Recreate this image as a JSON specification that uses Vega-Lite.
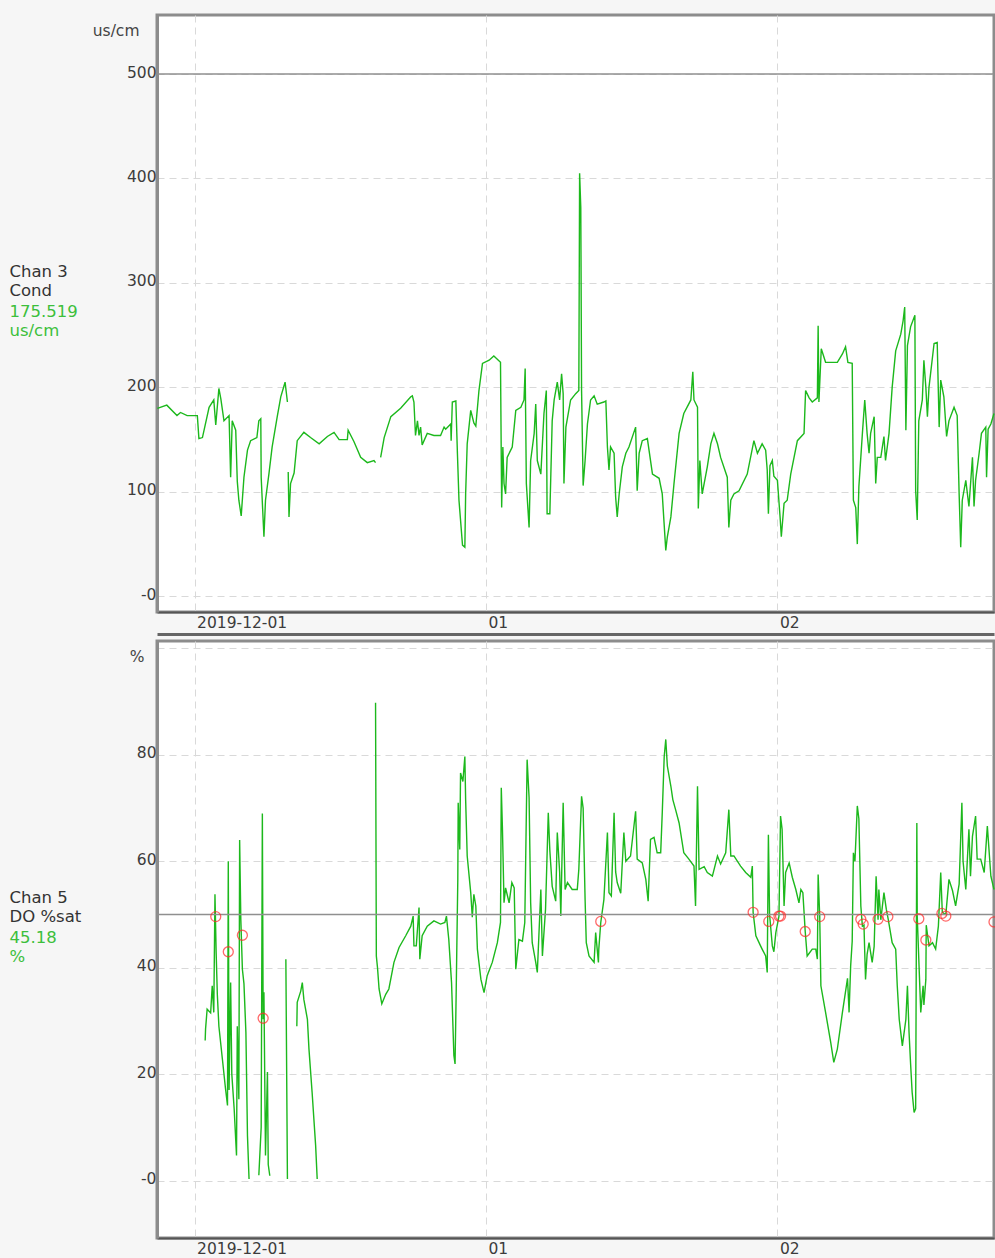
{
"$schema":"https://vega.github.io/schema/vega-lite/v6.json",
"background":"#f6f6f6",
"padding":{"left":7,"top":13,"right":0,"bottom":0},
"spacing":0,
"config":{
 "font":"DejaVu Sans",
 "view":{"fill":"white","stroke":"#8c8c8c","strokeWidth":3},
 "axis":{"labelFont":"DejaVu Sans","labelFontSize":15.5,"labelColor":"#3c3c3c","domainColor":"#8c8c8c","domainWidth":3,"ticks":false,"gridColor":"#d9d9d9","gridDash":[7,5],"gridWidth":1,"titleFont":"DejaVu Sans","titleFontWeight":"normal","titleFontSize":16.5,"titleColor":"#333333","titleAngle":0,"titleLineHeight":19.5},
 "axisX":{"domainColor":"#555555","domainWidth":2,"labelAlign":"left","labelBaseline":"top","labelOffset":2,"labelPadding":3,"labelFlush":false},
 "axisY":{"labelAlign":"right","labelBaseline":"middle","labelOffset":-2,"labelPadding":1}
},
"datasets":{
"cond":[
{"t":"2019-11-27 01:00","v":180},{"t":"2019-11-28 01:00","v":183},{"t":"2019-11-29 03:00","v":173},{"t":"2019-11-29 12:00","v":176},{"t":"2019-11-30 05:00","v":173},{"t":"2019-12-01 07:00","v":173},{"t":"2019-12-01 11:00","v":151},{"t":"2019-12-01 20:00","v":152},{"t":"2019-12-02 13:00","v":181},{"t":"2019-12-03 01:00","v":188},{"t":"2019-12-03 06:00","v":164},{"t":"2019-12-03 14:00","v":199},{"t":"2019-12-03 19:00","v":189},{"t":"2019-12-04 03:00","v":168},{"t":"2019-12-04 16:00","v":173},{"t":"2019-12-04 20:00","v":114},{"t":"2019-12-05 00:00","v":168},{"t":"2019-12-05 09:00","v":159},{"t":"2019-12-05 13:00","v":110},{"t":"2019-12-05 17:00","v":92},{"t":"2019-12-05 23:00","v":77},{"t":"2019-12-06 06:00","v":114},{"t":"2019-12-06 15:00","v":140},{"t":"2019-12-06 23:00","v":149},{"t":"2019-12-07 15:00","v":152},{"t":"2019-12-07 20:00","v":168},{"t":"2019-12-08 01:00","v":170},{"t":"2019-12-08 02:00","v":114},{"t":"2019-12-08 09:00","v":57},{"t":"2019-12-08 13:00","v":92},{"t":"2019-12-08 22:00","v":118},{"t":"2019-12-09 06:00","v":143},{"t":"2019-12-09 19:00","v":172},{"t":"2019-12-10 04:00","v":191},{"t":"2019-12-10 15:00","v":205},{"t":"2019-12-10 21:00","v":186},{"t":"2019-12-10 22:00","v":null},{"t":"2019-12-10 23:00","v":119},{"t":"2019-12-11 01:00","v":76},{"t":"2019-12-11 05:00","v":108},{"t":"2019-12-11 14:00","v":118},{"t":"2019-12-11 22:00","v":149},{"t":"2019-12-12 15:00","v":157},{"t":"2019-12-13 08:00","v":152},{"t":"2019-12-14 06:00","v":146},{"t":"2019-12-15 03:00","v":153},{"t":"2019-12-15 20:00","v":157},{"t":"2019-12-16 09:00","v":150},{"t":"2019-12-17 06:00","v":150},{"t":"2019-12-17 08:00","v":159},{"t":"2019-12-17 23:00","v":148},{"t":"2019-12-18 16:00","v":133},{"t":"2019-12-19 09:00","v":128},{"t":"2019-12-20 02:00","v":130},{"t":"2019-12-20 06:00","v":128},{"t":"2019-12-20 12:00","v":null},{"t":"2019-12-20 19:00","v":133},{"t":"2019-12-21 04:00","v":152},{"t":"2019-12-21 21:00","v":172},{"t":"2019-12-22 22:00","v":180},{"t":"2019-12-24 00:00","v":191},{"t":"2019-12-24 04:00","v":192},{"t":"2019-12-24 08:00","v":186},{"t":"2019-12-24 12:00","v":154},{"t":"2019-12-24 17:00","v":168},{"t":"2019-12-24 21:00","v":154},{"t":"2019-12-25 01:00","v":162},{"t":"2019-12-25 05:00","v":145},{"t":"2019-12-25 18:00","v":156},{"t":"2019-12-26 11:00","v":154},{"t":"2019-12-27 04:00","v":154},{"t":"2019-12-27 13:00","v":162},{"t":"2019-12-27 17:00","v":160},{"t":"2019-12-28 06:00","v":165},{"t":"2019-12-28 07:00","v":149},{"t":"2019-12-28 10:00","v":186},{"t":"2019-12-28 19:00","v":187},{"t":"2019-12-28 23:00","v":137},{"t":"2019-12-29 03:00","v":92},{"t":"2019-12-29 12:00","v":49},{"t":"2019-12-29 18:00","v":47},{"t":"2019-12-29 20:00","v":98},{"t":"2019-12-30 00:00","v":146},{"t":"2019-12-30 09:00","v":178},{"t":"2019-12-30 17:00","v":166},{"t":"2019-12-30 22:00","v":163},{"t":"2019-12-31 06:00","v":197},{"t":"2019-12-31 15:00","v":223},{"t":"2020-01-01 08:00","v":226},{"t":"2020-01-01 20:00","v":230},{"t":"2020-01-02 13:00","v":224},{"t":"2020-01-02 16:00","v":85},{"t":"2020-01-02 19:00","v":143},{"t":"2020-01-02 22:00","v":108},{"t":"2020-01-03 02:00","v":98},{"t":"2020-01-03 06:00","v":133},{"t":"2020-01-03 19:00","v":143},{"t":"2020-01-04 04:00","v":178},{"t":"2020-01-04 17:00","v":181},{"t":"2020-01-05 01:00","v":188},{"t":"2020-01-05 04:00","v":218},{"t":"2020-01-05 07:00","v":108},{"t":"2020-01-05 14:00","v":66},{"t":"2020-01-05 18:00","v":130},{"t":"2020-01-06 03:00","v":156},{"t":"2020-01-06 07:00","v":184},{"t":"2020-01-06 11:00","v":130},{"t":"2020-01-06 20:00","v":117},{"t":"2020-01-07 04:00","v":175},{"t":"2020-01-07 10:00","v":197},{"t":"2020-01-07 12:00","v":79},{"t":"2020-01-07 19:00","v":79},{"t":"2020-01-08 01:00","v":168},{"t":"2020-01-08 06:00","v":188},{"t":"2020-01-08 14:00","v":205},{"t":"2020-01-08 20:00","v":188},{"t":"2020-01-09 01:00","v":213},{"t":"2020-01-09 05:00","v":194},{"t":"2020-01-09 07:00","v":108},{"t":"2020-01-09 12:00","v":162},{"t":"2020-01-10 00:00","v":188},{"t":"2020-01-10 13:00","v":194},{"t":"2020-01-10 21:00","v":197},{"t":"2020-01-10 23:00","v":405},{"t":"2020-01-11 02:00","v":372},{"t":"2020-01-11 04:00","v":197},{"t":"2020-01-11 08:00","v":106},{"t":"2020-01-11 13:00","v":130},{"t":"2020-01-11 19:00","v":165},{"t":"2020-01-12 03:00","v":188},{"t":"2020-01-12 12:00","v":192},{"t":"2020-01-12 20:00","v":184},{"t":"2020-01-13 13:00","v":186},{"t":"2020-01-13 18:00","v":187},{"t":"2020-01-13 22:00","v":143},{"t":"2020-01-14 02:00","v":121},{"t":"2020-01-14 06:00","v":143},{"t":"2020-01-14 15:00","v":137},{"t":"2020-01-14 19:00","v":95},{"t":"2020-01-14 23:00","v":76},{"t":"2020-01-15 04:00","v":98},{"t":"2020-01-15 12:00","v":124},{"t":"2020-01-15 21:00","v":137},{"t":"2020-01-16 05:00","v":143},{"t":"2020-01-16 22:00","v":162},{"t":"2020-01-17 02:00","v":101},{"t":"2020-01-17 07:00","v":137},{"t":"2020-01-17 15:00","v":149},{"t":"2020-01-18 04:00","v":151},{"t":"2020-01-18 17:00","v":117},{"t":"2020-01-19 10:00","v":113},{"t":"2020-01-19 18:00","v":98},{"t":"2020-01-20 03:00","v":44},{"t":"2020-01-20 07:00","v":57},{"t":"2020-01-20 16:00","v":76},{"t":"2020-01-21 00:00","v":108},{"t":"2020-01-21 13:00","v":156},{"t":"2020-01-22 01:00","v":175},{"t":"2020-01-22 19:00","v":188},{"t":"2020-01-23 00:00","v":215},{"t":"2020-01-23 03:00","v":188},{"t":"2020-01-23 12:00","v":181},{"t":"2020-01-23 14:00","v":84},{"t":"2020-01-23 18:00","v":130},{"t":"2020-01-24 00:00","v":98},{"t":"2020-01-24 13:00","v":124},{"t":"2020-01-24 22:00","v":146},{"t":"2020-01-25 06:00","v":156},{"t":"2020-01-25 15:00","v":146},{"t":"2020-01-25 23:00","v":133},{"t":"2020-01-26 16:00","v":114},{"t":"2020-01-26 20:00","v":66},{"t":"2020-01-27 01:00","v":92},{"t":"2020-01-27 09:00","v":98},{"t":"2020-01-27 22:00","v":101},{"t":"2020-01-28 19:00","v":117},{"t":"2020-01-29 12:00","v":149},{"t":"2020-01-29 21:00","v":137},{"t":"2020-01-30 09:00","v":146},{"t":"2020-01-30 18:00","v":140},{"t":"2020-01-30 22:00","v":121},{"t":"2020-01-31 01:00","v":79},{"t":"2020-01-31 05:00","v":125},{"t":"2020-01-31 11:00","v":130},{"t":"2020-01-31 15:00","v":115},{"t":"2020-02-01 00:00","v":111},{"t":"2020-02-01 07:00","v":75},{"t":"2020-02-01 10:00","v":57},{"t":"2020-02-01 17:00","v":89},{"t":"2020-02-02 01:00","v":92},{"t":"2020-02-02 10:00","v":117},{"t":"2020-02-03 03:00","v":149},{"t":"2020-02-03 20:00","v":156},{"t":"2020-02-04 00:00","v":197},{"t":"2020-02-04 09:00","v":190},{"t":"2020-02-04 17:00","v":186},{"t":"2020-02-05 06:00","v":190},{"t":"2020-02-05 08:00","v":259},{"t":"2020-02-05 10:00","v":186},{"t":"2020-02-05 16:00","v":237},{"t":"2020-02-06 03:00","v":224},{"t":"2020-02-07 09:00","v":224},{"t":"2020-02-07 22:00","v":232},{"t":"2020-02-08 06:00","v":239},{"t":"2020-02-08 12:00","v":224},{"t":"2020-02-08 23:00","v":223},{"t":"2020-02-09 02:00","v":92},{"t":"2020-02-09 08:00","v":85},{"t":"2020-02-09 12:00","v":50},{"t":"2020-02-09 16:00","v":105},{"t":"2020-02-10 01:00","v":156},{"t":"2020-02-10 07:00","v":188},{"t":"2020-02-10 13:00","v":156},{"t":"2020-02-10 18:00","v":137},{"t":"2020-02-10 22:00","v":156},{"t":"2020-02-11 07:00","v":172},{"t":"2020-02-11 11:00","v":108},{"t":"2020-02-11 15:00","v":133},{"t":"2020-02-12 00:00","v":133},{"t":"2020-02-12 08:00","v":153},{"t":"2020-02-12 12:00","v":130},{"t":"2020-02-12 21:00","v":156},{"t":"2020-02-13 05:00","v":200},{"t":"2020-02-13 14:00","v":235},{"t":"2020-02-14 03:00","v":251},{"t":"2020-02-14 09:00","v":264},{"t":"2020-02-14 13:00","v":277},{"t":"2020-02-14 16:00","v":159},{"t":"2020-02-14 20:00","v":240},{"t":"2020-02-15 04:00","v":258},{"t":"2020-02-15 15:00","v":269},{"t":"2020-02-15 17:00","v":101},{"t":"2020-02-15 21:00","v":73},{"t":"2020-02-16 01:00","v":168},{"t":"2020-02-16 10:00","v":188},{"t":"2020-02-16 14:00","v":226},{"t":"2020-02-16 19:00","v":200},{"t":"2020-02-16 23:00","v":172},{"t":"2020-02-17 03:00","v":200},{"t":"2020-02-17 16:00","v":242},{"t":"2020-02-18 00:00","v":243},{"t":"2020-02-18 05:00","v":162},{"t":"2020-02-18 09:00","v":207},{"t":"2020-02-18 17:00","v":191},{"t":"2020-02-19 00:00","v":153},{"t":"2020-02-19 06:00","v":168},{"t":"2020-02-19 19:00","v":181},{"t":"2020-02-20 03:00","v":173},{"t":"2020-02-20 08:00","v":98},{"t":"2020-02-20 12:00","v":47},{"t":"2020-02-20 16:00","v":92},{"t":"2020-02-21 01:00","v":111},{"t":"2020-02-21 09:00","v":86},{"t":"2020-02-21 18:00","v":133},{"t":"2020-02-21 22:00","v":86},{"t":"2020-02-22 02:00","v":111},{"t":"2020-02-22 11:00","v":137},{"t":"2020-02-22 17:00","v":156},{"t":"2020-02-23 04:00","v":162},{"t":"2020-02-23 06:00","v":114},{"t":"2020-02-23 10:00","v":160},{"t":"2020-02-23 17:00","v":165},{"t":"2020-02-24 01:00","v":175}
],
"dosat":[
{"t":"2019-12-02 03:00","v":26.3},{"t":"2019-12-02 04:00","v":28.5},{"t":"2019-12-02 08:00","v":32.2},{"t":"2019-12-02 17:00","v":31.5},{"t":"2019-12-02 21:00","v":36.6},{"t":"2019-12-03 01:00","v":31.6},{"t":"2019-12-03 04:00","v":53.8},{"t":"2019-12-03 07:00","v":42.9},{"t":"2019-12-03 10:00","v":35},{"t":"2019-12-03 14:00","v":29},{"t":"2019-12-03 23:00","v":22.8},{"t":"2019-12-04 07:00","v":17.2},{"t":"2019-12-04 12:00","v":14.1},{"t":"2019-12-04 14:00","v":60},{"t":"2019-12-04 16:00","v":17},{"t":"2019-12-04 20:00","v":37.2},{"t":"2019-12-04 23:00","v":20},{"t":"2019-12-05 05:00","v":13.5},{"t":"2019-12-05 11:00","v":4.7},{"t":"2019-12-05 13:00","v":29},{"t":"2019-12-05 17:00","v":15.3},{"t":"2019-12-05 19:00","v":64},{"t":"2019-12-05 22:00","v":49.1},{"t":"2019-12-06 02:00","v":39.7},{"t":"2019-12-06 06:00","v":37},{"t":"2019-12-06 11:00","v":27.8},{"t":"2019-12-06 15:00","v":8.4},{"t":"2019-12-06 19:00","v":0.3},{"t":"2019-12-07 06:00","v":null},{"t":"2019-12-07 20:00","v":1},{"t":"2019-12-08 02:00","v":10},{"t":"2019-12-08 05:00","v":69},{"t":"2019-12-08 07:00","v":30.3},{"t":"2019-12-08 09:00","v":35.4},{"t":"2019-12-08 13:00","v":4.7},{"t":"2019-12-08 18:00","v":20.4},{"t":"2019-12-08 20:00","v":3},{"t":"2019-12-09 00:00","v":0.9},{"t":"2019-12-09 12:00","v":null},{"t":"2019-12-10 17:00","v":41.6},{"t":"2019-12-10 21:00","v":0.3},{"t":"2019-12-11 08:00","v":null},{"t":"2019-12-11 21:00","v":29},{"t":"2019-12-11 22:00","v":33.5},{"t":"2019-12-12 07:00","v":35.6},{"t":"2019-12-12 11:00","v":37.2},{"t":"2019-12-12 15:00","v":34},{"t":"2019-12-13 00:00","v":30.3},{"t":"2019-12-13 04:00","v":24.7},{"t":"2019-12-13 12:00","v":16.6},{"t":"2019-12-13 21:00","v":6.6},{"t":"2019-12-14 01:00","v":0.3},{"t":"2019-12-15 00:00","v":null},{"t":"2019-12-20 06:00","v":89.8},{"t":"2019-12-20 08:00","v":42.2},{"t":"2019-12-20 11:00","v":40},{"t":"2019-12-20 15:00","v":36},{"t":"2019-12-20 22:00","v":33.2},{"t":"2019-12-21 08:00","v":35},{"t":"2019-12-21 16:00","v":36},{"t":"2019-12-22 05:00","v":41},{"t":"2019-12-22 18:00","v":43.8},{"t":"2019-12-23 11:00","v":46},{"t":"2019-12-24 00:00","v":47.8},{"t":"2019-12-24 06:00","v":49.7},{"t":"2019-12-24 08:00","v":44.1},{"t":"2019-12-24 14:00","v":44.1},{"t":"2019-12-24 21:00","v":51.3},{"t":"2019-12-24 23:00","v":41.6},{"t":"2019-12-25 05:00","v":46},{"t":"2019-12-25 18:00","v":47.8},{"t":"2019-12-26 11:00","v":48.8},{"t":"2019-12-27 04:00","v":48.2},{"t":"2019-12-27 15:00","v":48.5},{"t":"2019-12-27 19:00","v":49.7},{"t":"2019-12-28 01:00","v":45.3},{"t":"2019-12-28 08:00","v":37.2},{"t":"2019-12-28 14:00","v":23.5},{"t":"2019-12-28 17:00","v":21.9},{"t":"2019-12-28 20:00","v":36},{"t":"2019-12-29 00:00","v":56.6},{"t":"2019-12-29 01:00","v":71},{"t":"2019-12-29 05:00","v":62.2},{"t":"2019-12-29 07:00","v":76.6},{"t":"2019-12-29 13:00","v":75},{"t":"2019-12-29 18:00","v":79.7},{"t":"2019-12-29 20:00","v":71.6},{"t":"2019-12-30 00:00","v":61},{"t":"2019-12-30 09:00","v":54.1},{"t":"2019-12-30 13:00","v":49.5},{"t":"2019-12-30 17:00","v":53.8},{"t":"2019-12-30 22:00","v":51.6},{"t":"2019-12-31 02:00","v":43.5},{"t":"2019-12-31 11:00","v":37.8},{"t":"2019-12-31 19:00","v":35.3},{"t":"2020-01-01 03:00","v":38.5},{"t":"2020-01-01 16:00","v":41},{"t":"2020-01-02 05:00","v":44.7},{"t":"2020-01-02 13:00","v":48.5},{"t":"2020-01-02 15:00","v":73.8},{"t":"2020-01-02 18:00","v":66},{"t":"2020-01-02 22:00","v":52.2},{"t":"2020-01-03 02:00","v":55},{"t":"2020-01-03 11:00","v":52.2},{"t":"2020-01-03 18:00","v":56},{"t":"2020-01-04 00:00","v":55},{"t":"2020-01-04 04:00","v":39.7},{"t":"2020-01-04 12:00","v":45.3},{"t":"2020-01-04 21:00","v":45},{"t":"2020-01-05 03:00","v":48.5},{"t":"2020-01-05 09:00","v":79.1},{"t":"2020-01-05 14:00","v":72},{"t":"2020-01-05 18:00","v":52.2},{"t":"2020-01-05 22:00","v":44.7},{"t":"2020-01-06 07:00","v":41},{"t":"2020-01-06 11:00","v":39.1},{"t":"2020-01-06 20:00","v":54.7},{"t":"2020-01-07 00:00","v":42.2},{"t":"2020-01-07 08:00","v":51},{"t":"2020-01-07 15:00","v":69.1},{"t":"2020-01-07 19:00","v":62},{"t":"2020-01-08 01:00","v":55.3},{"t":"2020-01-08 10:00","v":52.5},{"t":"2020-01-08 14:00","v":65.4},{"t":"2020-01-08 20:00","v":58},{"t":"2020-01-08 23:00","v":49.7},{"t":"2020-01-09 05:00","v":71},{"t":"2020-01-09 10:00","v":54.7},{"t":"2020-01-09 16:00","v":56},{"t":"2020-01-10 04:00","v":54.7},{"t":"2020-01-10 17:00","v":54.7},{"t":"2020-01-10 21:00","v":58.5},{"t":"2020-01-11 04:00","v":72.2},{"t":"2020-01-11 08:00","v":70},{"t":"2020-01-11 13:00","v":52.8},{"t":"2020-01-11 16:00","v":44.7},{"t":"2020-01-11 23:00","v":42.2},{"t":"2020-01-12 12:00","v":41},{"t":"2020-01-12 16:00","v":46.6},{"t":"2020-01-12 23:00","v":41},{"t":"2020-01-13 00:00","v":43.5},{"t":"2020-01-13 05:00","v":48.5},{"t":"2020-01-13 13:00","v":52.8},{"t":"2020-01-13 22:00","v":65.4},{"t":"2020-01-14 02:00","v":54.1},{"t":"2020-01-14 08:00","v":53.5},{"t":"2020-01-14 15:00","v":69.1},{"t":"2020-01-14 19:00","v":58},{"t":"2020-01-14 23:00","v":56},{"t":"2020-01-15 08:00","v":54},{"t":"2020-01-15 16:00","v":65.4},{"t":"2020-01-15 21:00","v":60},{"t":"2020-01-16 09:00","v":61},{"t":"2020-01-16 22:00","v":69.4},{"t":"2020-01-17 02:00","v":60.4},{"t":"2020-01-17 15:00","v":59.7},{"t":"2020-01-18 00:00","v":56.6},{"t":"2020-01-18 06:00","v":52.5},{"t":"2020-01-18 12:00","v":64.1},{"t":"2020-01-18 21:00","v":64.5},{"t":"2020-01-19 05:00","v":61.6},{"t":"2020-01-19 14:00","v":61.6},{"t":"2020-01-19 18:00","v":69.1},{"t":"2020-01-19 23:00","v":79.7},{"t":"2020-01-20 03:00","v":82.9},{"t":"2020-01-20 07:00","v":77.9},{"t":"2020-01-20 16:00","v":74.1},{"t":"2020-01-20 21:00","v":71.6},{"t":"2020-01-21 04:00","v":69.7},{"t":"2020-01-21 13:00","v":67.2},{"t":"2020-01-22 01:00","v":61.6},{"t":"2020-01-22 14:00","v":60.4},{"t":"2020-01-23 03:00","v":59.1},{"t":"2020-01-23 07:00","v":51.6},{"t":"2020-01-23 12:00","v":74.1},{"t":"2020-01-23 16:00","v":58.5},{"t":"2020-01-24 05:00","v":59},{"t":"2020-01-24 13:00","v":57.9},{"t":"2020-01-25 02:00","v":57.2},{"t":"2020-01-25 15:00","v":61},{"t":"2020-01-25 23:00","v":59.5},{"t":"2020-01-26 12:00","v":61.6},{"t":"2020-01-26 20:00","v":69.7},{"t":"2020-01-27 01:00","v":61},{"t":"2020-01-27 09:00","v":61},{"t":"2020-01-28 02:00","v":59.1},{"t":"2020-01-28 15:00","v":57.9},{"t":"2020-01-29 04:00","v":57},{"t":"2020-01-29 08:00","v":59.1},{"t":"2020-01-29 10:00","v":50.4},{"t":"2020-01-29 17:00","v":46},{"t":"2020-01-30 05:00","v":44.1},{"t":"2020-01-30 09:00","v":43.5},{"t":"2020-01-30 18:00","v":42.2},{"t":"2020-01-30 22:00","v":39.1},{"t":"2020-01-31 01:00","v":65},{"t":"2020-01-31 04:00","v":50},{"t":"2020-01-31 11:00","v":44.1},{"t":"2020-01-31 15:00","v":43},{"t":"2020-01-31 20:00","v":46.6},{"t":"2020-02-01 04:00","v":49.7},{"t":"2020-02-01 08:00","v":68.5},{"t":"2020-02-01 12:00","v":66},{"t":"2020-02-01 17:00","v":51.6},{"t":"2020-02-01 21:00","v":57.9},{"t":"2020-02-02 06:00","v":59.7},{"t":"2020-02-02 14:00","v":57},{"t":"2020-02-02 23:00","v":54.7},{"t":"2020-02-03 07:00","v":52.2},{"t":"2020-02-03 12:00","v":54.7},{"t":"2020-02-03 17:00","v":54.1},{"t":"2020-02-03 23:00","v":46.8},{"t":"2020-02-04 04:00","v":42.2},{"t":"2020-02-04 17:00","v":43.5},{"t":"2020-02-05 02:00","v":43.5},{"t":"2020-02-05 06:00","v":41.6},{"t":"2020-02-05 08:00","v":57.5},{"t":"2020-02-05 12:00","v":49.7},{"t":"2020-02-05 15:00","v":36.6},{"t":"2020-02-06 03:00","v":31.6},{"t":"2020-02-06 16:00","v":26},{"t":"2020-02-07 00:00","v":22.2},{"t":"2020-02-07 09:00","v":24.7},{"t":"2020-02-07 22:00","v":31.6},{"t":"2020-02-08 11:00","v":38},{"t":"2020-02-08 15:00","v":31.6},{"t":"2020-02-08 19:00","v":40.3},{"t":"2020-02-08 23:00","v":45},{"t":"2020-02-09 02:00","v":61.6},{"t":"2020-02-09 06:00","v":60},{"t":"2020-02-09 12:00","v":70.4},{"t":"2020-02-09 16:00","v":68},{"t":"2020-02-09 21:00","v":51.6},{"t":"2020-02-10 01:00","v":47.8},{"t":"2020-02-10 05:00","v":48},{"t":"2020-02-10 09:00","v":37.8},{"t":"2020-02-10 13:00","v":42.5},{"t":"2020-02-10 18:00","v":44.7},{"t":"2020-02-11 02:00","v":41},{"t":"2020-02-11 07:00","v":44},{"t":"2020-02-11 12:00","v":57.2},{"t":"2020-02-11 17:00","v":49},{"t":"2020-02-11 19:00","v":54.7},{"t":"2020-02-12 00:00","v":49},{"t":"2020-02-12 08:00","v":54.1},{"t":"2020-02-12 14:00","v":51},{"t":"2020-02-12 19:00","v":49.1},{"t":"2020-02-13 05:00","v":44.7},{"t":"2020-02-13 14:00","v":43.5},{"t":"2020-02-13 18:00","v":36.6},{"t":"2020-02-13 23:00","v":30.3},{"t":"2020-02-14 07:00","v":25.3},{"t":"2020-02-14 16:00","v":30.3},{"t":"2020-02-14 20:00","v":36.6},{"t":"2020-02-15 00:00","v":28},{"t":"2020-02-15 04:00","v":22},{"t":"2020-02-15 08:00","v":16.6},{"t":"2020-02-15 13:00","v":12.8},{"t":"2020-02-15 17:00","v":13.5},{"t":"2020-02-15 20:00","v":67.2},{"t":"2020-02-15 21:00","v":49.7},{"t":"2020-02-16 01:00","v":41.6},{"t":"2020-02-16 06:00","v":31.6},{"t":"2020-02-16 12:00","v":36.6},{"t":"2020-02-16 14:00","v":33},{"t":"2020-02-16 19:00","v":37.8},{"t":"2020-02-16 20:00","v":48},{"t":"2020-02-17 03:00","v":44.1},{"t":"2020-02-17 12:00","v":44.7},{"t":"2020-02-17 20:00","v":43.5},{"t":"2020-02-18 03:00","v":47.8},{"t":"2020-02-18 09:00","v":57.9},{"t":"2020-02-18 13:00","v":50.4},{"t":"2020-02-18 22:00","v":50},{"t":"2020-02-19 06:00","v":56.6},{"t":"2020-02-19 15:00","v":54.5},{"t":"2020-02-19 23:00","v":51.6},{"t":"2020-02-20 08:00","v":55.7},{"t":"2020-02-20 15:00","v":71},{"t":"2020-02-20 18:00","v":60},{"t":"2020-02-21 01:00","v":54.7},{"t":"2020-02-21 09:00","v":66},{"t":"2020-02-21 13:00","v":57.2},{"t":"2020-02-21 18:00","v":64.7},{"t":"2020-02-22 02:00","v":68.5},{"t":"2020-02-22 06:00","v":60.4},{"t":"2020-02-22 15:00","v":60.4},{"t":"2020-02-23 00:00","v":57.9},{"t":"2020-02-23 08:00","v":66.6},{"t":"2020-02-23 17:00","v":57.2},{"t":"2020-02-24 01:00","v":54.7}
],
"flags":[
{"t":"2019-12-03 06:00","v":49.6},{"t":"2019-12-04 14:00","v":43.0},{"t":"2019-12-06 02:00","v":46.1},{"t":"2019-12-08 07:00","v":30.5},{"t":"2020-01-13 05:00","v":48.7},{"t":"2020-01-29 10:00","v":50.4},{"t":"2020-01-31 02:00","v":48.7},{"t":"2020-02-01 04:00","v":49.7},{"t":"2020-02-01 08:00","v":49.7},{"t":"2020-02-03 23:00","v":46.8},{"t":"2020-02-05 12:00","v":49.6},{"t":"2020-02-09 21:00","v":49.1},{"t":"2020-02-10 03:00","v":48.2},{"t":"2020-02-11 17:00","v":49.1},{"t":"2020-02-12 18:00","v":49.6},{"t":"2020-02-16 01:00","v":49.2},{"t":"2020-02-16 19:00","v":45.2},{"t":"2020-02-18 12:00","v":50.2},{"t":"2020-02-18 22:00","v":49.7},{"t":"2020-02-24 01:00","v":48.6}
],
"condlimit":[{"limit":500}],
"dolimit":[{"limit":50}]
},
"vconcat":[
{
 "width":837,"height":597,
 "layer":[
  {
   "data":{"name":"cond"},
   "mark":{"type":"line","color":"#1cb81c","strokeWidth":1.4,"invalid":"break-paths-show-domains"},
   "encoding":{
    "x":{"field":"t","type":"temporal",
     "scale":{"domain":[{"year":2019,"month":11,"date":27},{"year":2020,"month":2,"date":24,"hours":1}]},
     "axis":{"values":[{"year":2019,"month":12,"date":1},{"year":2020,"month":1,"date":1},{"year":2020,"month":2,"date":1}],
      "labelExpr":"month(datum.value)==11 ? timeFormat(datum.value,'%Y-%m-%d') : timeFormat(datum.value,'%m')",
      "title":["175.519","us/cm"],"titleColor":"#3cbf3c","titleX":-148,"titleY":-301,"titleAlign":"left","titleBaseline":"middle"}},
    "y":{"field":"v","type":"quantitative",
     "scale":{"domain":[-15,556.5],"nice":false,"zero":false},
     "axis":{"values":[0,100,200,300,400,500],"labelExpr":"datum.value==0 ? '-0' : datum.label",
      "title":"us/cm","titleColor":"#444444","titleFontSize":15.5,"titleX":-18,"titleY":15,"titleAlign":"right","titleBaseline":"middle"}}
   }
  },
  {
   "data":{"name":"condlimit"},
   "mark":{"type":"rule","color":"#8f8f8f","strokeWidth":1.5},
   "encoding":{
    "y":{"field":"limit","type":"quantitative",
     "scale":{"domain":[-15,556.5],"nice":false,"zero":false},
     "axis":{"orient":"left","labels":false,"domain":false,"grid":false,"ticks":false,
      "title":["Chan 3","Cond"],"titleX":-148,"titleY":256,"titleAlign":"left","titleBaseline":"middle"}}
   }
  }
 ],
 "resolve":{"axis":{"y":"independent"}}
},
{
 "width":837,"height":597,
 "layer":[
  {
   "data":{"name":"dosat"},
   "mark":{"type":"line","color":"#1cb81c","strokeWidth":1.4,"invalid":"break-paths-show-domains"},
   "encoding":{
    "x":{"field":"t","type":"temporal",
     "scale":{"domain":[{"year":2019,"month":11,"date":27},{"year":2020,"month":2,"date":24,"hours":1}]},
     "axis":{"values":[{"year":2019,"month":12,"date":1},{"year":2020,"month":1,"date":1},{"year":2020,"month":2,"date":1}],
      "labelExpr":"month(datum.value)==11 ? timeFormat(datum.value,'%Y-%m-%d') : timeFormat(datum.value,'%m')",
      "title":["45.18","%"],"titleColor":"#3cbf3c","titleX":-148,"titleY":-301,"titleAlign":"left","titleBaseline":"middle"}},
    "y":{"field":"v","type":"quantitative",
     "scale":{"domain":[-10.8,101.4],"nice":false,"zero":false},
     "axis":{"values":[0,20,40,60,80,100],"labelExpr":"datum.value==0 ? '-0' : datum.value==100 ? '' : datum.label",
      "title":"%","titleColor":"#444444","titleFontSize":15.5,"titleX":-13,"titleY":15,"titleAlign":"right","titleBaseline":"middle"}}
   }
  },
  {
   "data":{"name":"dolimit"},
   "mark":{"type":"rule","color":"#8f8f8f","strokeWidth":1.5},
   "encoding":{
    "y":{"field":"limit","type":"quantitative",
     "scale":{"domain":[-10.8,101.4],"nice":false,"zero":false},
     "axis":{"orient":"left","labels":false,"domain":false,"grid":false,"ticks":false,
      "title":["Chan 5","DO %sat"],"titleX":-148,"titleY":256,"titleAlign":"left","titleBaseline":"middle"}}
   }
  },
  {
   "data":{"name":"flags"},
   "mark":{"type":"point","shape":"circle","filled":false,"color":"#ff2a2a","size":100,"strokeWidth":1.3},
   "encoding":{
    "x":{"field":"t","type":"temporal",
     "scale":{"domain":[{"year":2019,"month":11,"date":27},{"year":2020,"month":2,"date":24,"hours":1}]},
     "axis":{"orient":"top","labels":false,"grid":false,"ticks":false,"domain":true,"domainColor":"#666666","domainWidth":3,"offset":7,"title":null}},
    "y":{"field":"v","type":"quantitative","scale":{"domain":[-10.8,101.4],"nice":false,"zero":false},"axis":null}
   }
  }
 ],
 "resolve":{"axis":{"y":"independent","x":"independent"}}
}
]
}
